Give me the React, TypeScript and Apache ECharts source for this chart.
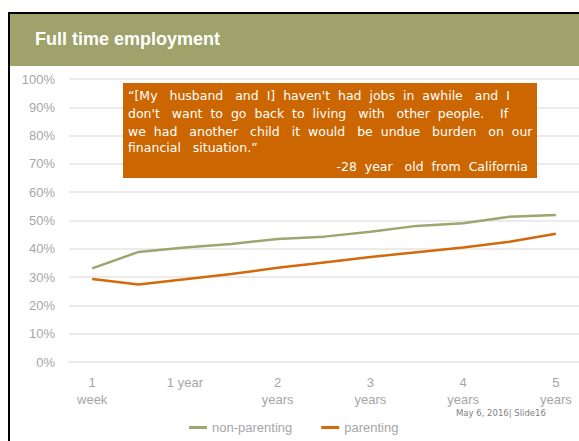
import React, { useEffect, useRef } from "react";
import * as echarts from "echarts";

const categories = [
  "1\nweek",
  "6 months",
  "1 year",
  "18 months",
  "2\nyears",
  "30 months",
  "3\nyears",
  "42 months",
  "4\nyears",
  "54 months",
  "5\nyears",
];
const nonParenting = [33.1, 38.9, 40.5, 41.7, 43.5, 44.3, 46.0, 48.1, 49.0, 51.3, 51.9];
const parenting = [29.3, 27.4, 29.2, 31.1, 33.3, 35.2, 37.1, 38.8, 40.5, 42.5, 45.3];
const seriesNames = ["non-parenting", "parenting"];
const title = "Full time employment";
const quoteLines = [
  "\u201C[My   husband   and  I]  haven't  had  jobs  in  awhile   and  I",
  "don't   want  to  go  back  to  living   with   other  people.    If",
  "we  had   another   child   it  would   be  undue   burden   on  our",
  "financial   situation.\u201D",
];
const quoteAuthor = "-28  year   old  from  California";
const footer = "May 6, 2016| Slide16";

export default function App() {
  const ref = useRef<HTMLDivElement>(null);
  useEffect(() => {
    const chart = echarts.init(ref.current!, null, { renderer: "svg" });
    const gray = "#A6A6A6";
    const quoteFont = "DejaVu Sans, Verdana, sans-serif";
    chart.setOption({
      animation: false,
      textStyle: { fontFamily: "Liberation Sans, Arial, sans-serif" },
      grid: { left: 69, right: 0, top: 79, bottom: 79, containLabel: false },
      legend: {
        data: seriesNames,
        left: 184,
        top: 416,
        icon: "rect",
        itemWidth: 18,
        itemHeight: 3,
        itemGap: 29,
        textStyle: { color: gray, fontSize: 13 },
      },
      xAxis: {
        type: "category",
        data: categories,
        boundaryGap: true,
        axisLine: { show: true, lineStyle: { color: "#EBEBEB", width: 2 } },
        axisTick: { show: false },
        axisLabel: {
          interval: 1,
          color: gray,
          fontSize: 13,
          lineHeight: 17,
          margin: 12,
        },
        splitLine: { show: false },
      },
      yAxis: {
        type: "value",
        min: 0,
        max: 100,
        interval: 10,
        axisLine: { show: false },
        axisTick: { show: false },
        axisLabel: { formatter: "{value}%", color: gray, fontSize: 13, margin: 14 },
        splitLine: { lineStyle: { color: "#EBEBEB", width: 2 } },
      },
      series: [
        {
          name: seriesNames[0],
          type: "line",
          data: nonParenting,
          symbol: "none",
          lineStyle: { color: "#A0A46E", width: 2.5 },
          itemStyle: { color: "#A0A46E" },
        },
        {
          name: seriesNames[1],
          type: "line",
          data: parenting,
          symbol: "none",
          lineStyle: { color: "#D2690A", width: 2.5 },
          itemStyle: { color: "#D2690A" },
        },
      ],
      graphic: [
        { type: "rect", shape: { x: 10, y: 14, width: 569, height: 52 }, style: { fill: "#9FA26A" }, z: 10 },
        { type: "rect", shape: { x: 8, y: 12, width: 571, height: 2 }, style: { fill: "#000" }, z: 11 },
        { type: "rect", shape: { x: 8, y: 12, width: 2, height: 429 }, style: { fill: "#000" }, z: 11 },
        {
          type: "text",
          x: 35,
          y: 39,
          style: {
            text: title,
            fill: "#fff",
            font: "bold 18px Liberation Sans, Arial, sans-serif",
            verticalAlign: "middle",
          },
          z: 12,
        },
        { type: "rect", shape: { x: 123, y: 83, width: 414, height: 95 }, style: { fill: "#CC6600" }, z: 10 },
        ...quoteLines.map((t, i) => ({
          type: "text",
          x: 128,
          y: [95, 113, 131, 147][i],
          style: { text: t, fill: "#fff", font: `12.5px ${quoteFont}`, verticalAlign: "middle" },
          z: 12,
        })),
        {
          type: "text",
          x: 528,
          y: 166,
          style: {
            text: quoteAuthor,
            fill: "#fff",
            font: `12.5px ${quoteFont}`,
            align: "right",
            verticalAlign: "middle",
          },
          z: 12,
        },
        {
          type: "text",
          x: 456,
          y: 413,
          style: {
            text: footer,
            fill: "#7F7F7F",
            font: `8.5px ${quoteFont}`,
            verticalAlign: "middle",
          },
          z: 12,
        },
      ],
    });
    return () => chart.dispose();
  }, []);
  return (
    <div
      ref={ref}
      style={{ position: "absolute", left: 0, top: 0, width: 579, height: 441 }}
    />
  );
}
